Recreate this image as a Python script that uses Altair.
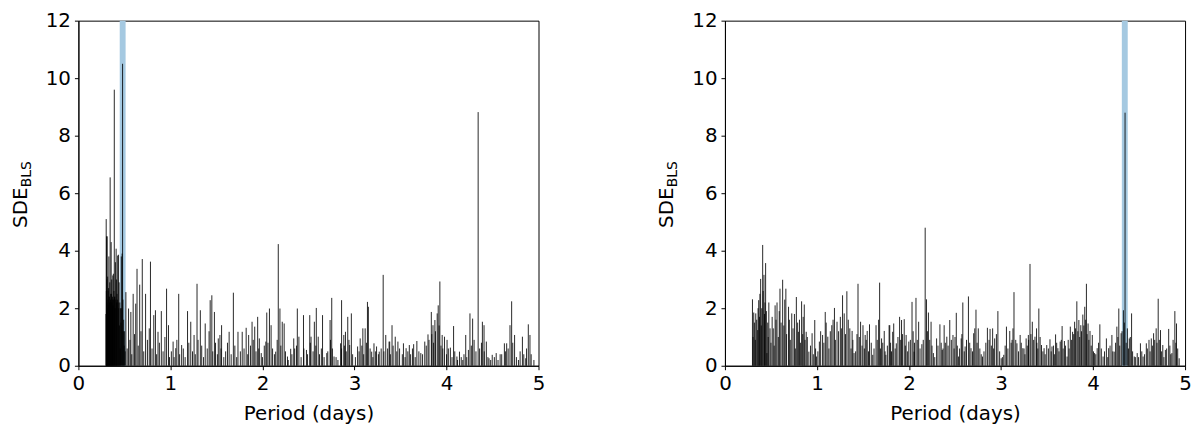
import altair as alt
import pandas as pd

# ---------------- data ----------------
left_period = [
    0.300, 0.302, 0.304, 0.306, 0.309, 0.311, 0.313, 0.316, 0.318, 0.321, 0.323, 0.326, 0.328, 0.331,
    0.333, 0.336, 0.338, 0.341, 0.345, 0.348, 0.351, 0.354, 0.356, 0.359, 0.362, 0.365, 0.368, 0.371,
    0.374, 0.377, 0.380, 0.383, 0.386, 0.390, 0.393, 0.396, 0.399, 0.402, 0.406, 0.410, 0.413, 0.416,
    0.420, 0.423, 0.427, 0.431, 0.435, 0.439, 0.442, 0.446, 0.450, 0.454, 0.458, 0.462, 0.466, 0.470,
    0.475, 0.480, 0.484, 0.488, 0.492, 0.497, 0.502, 0.508,
    0.516, 0.545, 0.570, 0.595, 0.623, 0.637, 0.666, 0.694, 0.730, 0.783, 0.819, 0.837, 0.865, 0.901,
    0.958, 0.979, 1.029, 1.058, 1.090, 1.122, 1.186, 1.221, 1.257, 1.289, 1.325, 1.378, 1.432, 1.450,
    1.478, 1.520, 1.538, 1.556, 1.638, 1.684, 1.734, 1.780, 1.823, 1.850,
    1.887, 1.916, 1.948, 1.966, 1.987, 2.037, 2.047, 2.076, 2.094, 2.144, 2.172, 2.190, 2.215, 2.236,
    2.272, 2.307, 2.340, 2.379, 2.396, 2.446, 2.478, 2.514, 2.528, 2.564, 2.585, 2.606, 2.653, 2.699,
    2.735, 2.753, 2.778, 2.849, 2.860, 2.884, 2.902, 2.927, 2.948, 2.966, 3.034, 3.062, 3.091, 3.116,
    3.141, 3.151, 3.187, 3.212, 3.240, 3.269, 3.312, 3.340, 3.376,
    3.383, 3.408, 3.443, 3.472, 3.532, 3.561, 3.596, 3.643, 3.678, 3.721, 3.764, 3.799, 3.835, 3.853,
    3.874, 3.899, 3.910, 3.928, 3.953, 3.978, 4.006, 4.042, 4.077, 4.113, 4.141, 4.177, 4.209, 4.238,
    4.255, 4.284, 4.344, 4.390, 4.408, 4.433, 4.462, 4.497, 4.540, 4.583, 4.629, 4.654, 4.690, 4.708,
    4.740, 4.782, 4.825, 4.861, 4.889, 4.907,
    0.530, 0.560, 0.580, 0.610, 0.650, 0.680, 0.710, 0.750, 0.770, 0.800, 0.850, 0.880, 0.920, 0.940,
    0.990, 1.010, 1.040, 1.070, 1.100, 1.140, 1.160, 1.200, 1.240, 1.270, 1.300, 1.340, 1.360, 1.400,
    1.420, 1.460, 1.490, 1.510, 1.550, 1.580, 1.600, 1.620, 1.660, 1.700, 1.720, 1.760, 1.800, 1.840,
    1.870, 1.900, 1.930, 1.960, 2.000, 2.020, 2.060, 2.110, 2.130, 2.160, 2.200, 2.250, 2.280, 2.320,
    2.350, 2.370, 2.420, 2.450, 2.490, 2.520, 2.550, 2.580, 2.620, 2.640, 2.670, 2.710, 2.740, 2.760,
    2.800, 2.820, 2.860, 2.890, 2.910, 2.940, 2.980, 3.010, 3.050, 3.080, 3.100, 3.130, 3.170, 3.200,
    3.230, 3.260, 3.290, 3.320, 3.360, 3.390, 3.420, 3.460, 3.490, 3.520, 3.550, 3.580, 3.610, 3.630,
    3.660, 3.700, 3.740, 3.780, 3.810, 3.840, 3.860, 3.880, 3.920, 3.940, 3.960, 4.000, 4.020, 4.060,
    4.090, 4.120, 4.160, 4.190, 4.220, 4.270, 4.300, 4.320, 4.360, 4.380, 4.410, 4.450, 4.480, 4.520,
    4.560, 4.600, 4.640, 4.670, 4.720, 4.760, 4.800, 4.840, 4.870, 4.920, 4.950,
]
left_sde = [
    1.8, 5.1, 2.6, 4.5, 3.0, 2.2, 4.5, 2.0, 3.1, 2.3, 2.6, 2.1, 2.7, 3.8,
    2.4, 2.4, 2.2, 2.9, 6.55, 2.3, 2.5, 2.2, 4.3, 2.5, 3.0, 2.2, 2.3, 2.4,
    3.14, 2.1, 3.2, 2.3, 2.6, 9.6, 2.4, 2.4, 2.0, 3.6, 2.3, 4.07, 3.0, 2.2,
    2.5, 2.3, 3.83, 2.2, 3.86, 2.0, 2.9, 1.4, 2.2, 0.6, 2.0, 1.5, 3.8, 2.0,
    3.9, 10.5, 2.3, 1.2, 1.6, 0.7, 1.2, 0.5,
    2.56, 1.99, 1.87, 2.5, 2.16, 3.37, 2.82, 3.71, 2.5, 3.62, 1.76, 1.93, 1.18, 1.9,
    2.68, 1.41, 0.84, 0.61, 2.5, 0.72, 1.9, 1.53, 1.07, 2.85, 1.93, 1.47, 2.28, 2.45,
    1.87, 0.95, 1.07, 1.41, 1.18, 2.54, 1.18, 1.18, 1.32, 1.07,
    1.53, 1.36, 1.7, 0.95, 0.44, 0.84, 1.85, 1.99, 1.41, 0.49, 4.23, 1.99, 1.53, 1.47,
    0.32, 0.59, 0.95, 1.99, 1.01, 1.76, 0.55, 1.76, 1.01, 1.53, 2.01, 1.01, 1.76, 0.44,
    1.59, 2.36, 0.32, 0.78, 2.28, 1.07, 1.18, 1.7, 0.72, 1.82, 0.67, 0.95, 1.3, 1.3,
    2.22, 2.05, 0.49, 0.78, 0.67, 0.49, 3.16, 1.07, 0.84,
    0.84, 1.41, 1.01, 0.84, 0.78, 0.61, 0.72, 0.75, 0.86, 0.44, 0.84, 1.09, 1.87, 1.41,
    1.59, 1.82, 2.1, 2.93, 1.07, 1.01, 0.9, 0.63, 1.38, 0.32, 0.49, 0.2, 1.07, 0.55,
    1.82, 1.64, 8.82, 1.53, 1.41, 0.84, 0.26, 0.38, 0.44, 0.4, 0.78, 0.78, 1.41, 2.24,
    1.07, 0.2, 1.01, 0.26, 1.44, 1.07,
    0.6, 0.9, 0.4, 1.1, 0.7, 1.2, 0.5, 0.9, 1.3, 0.6, 0.4, 0.8, 0.5, 1.0,
    0.3, 0.5, 0.3, 0.9, 0.4, 0.6, 0.3, 0.8, 0.5, 0.4, 0.9, 0.7, 0.3, 0.6,
    1.2, 0.5, 0.8, 0.4, 0.6, 0.3, 0.5, 0.8, 0.4, 0.7, 0.3, 0.5, 0.6, 0.4,
    0.7, 0.9, 0.5, 0.6, 0.3, 0.7, 0.8, 0.6, 0.4, 0.9, 0.7, 0.5, 0.2, 0.4,
    0.6, 0.7, 0.3, 0.6, 0.4, 0.8, 0.5, 0.7, 0.4, 0.6, 0.3, 0.5, 0.9, 0.6,
    0.3, 0.2, 0.6, 0.7, 0.5, 0.9, 0.4, 0.3, 0.5, 0.7, 0.4, 0.8, 0.6, 0.3,
    0.5, 0.4, 0.6, 0.5, 0.6, 0.4, 0.7, 0.5, 0.6, 0.4, 0.3, 0.5, 0.4, 0.6,
    0.3, 0.5, 0.4, 0.7, 0.9, 1.1, 0.8, 1.2, 1.4, 0.7, 0.6, 0.4, 0.6, 0.3,
    0.5, 0.2, 0.3, 0.4, 0.3, 0.7, 0.9, 0.5, 0.6, 0.8, 0.5, 0.3, 0.2, 0.3,
    0.2, 0.4, 0.5, 0.6, 0.8, 0.3, 0.5, 0.4, 0.6, 0.4, 0.2,
]

right_period = [
    0.299, 0.305, 0.313, 0.320, 0.330, 0.335, 0.345, 0.356, 0.360, 0.367, 0.375, 0.380, 0.388, 0.395,
    0.400, 0.410, 0.415, 0.424, 0.430, 0.435, 0.442, 0.450, 0.456, 0.465, 0.470, 0.477, 0.490, 0.500,
    0.513, 0.525, 0.535, 0.545, 0.555, 0.566, 0.580, 0.590, 0.598, 0.610, 0.627, 0.640, 0.650, 0.662,
    0.670, 0.691, 0.700, 0.710, 0.726, 0.740, 0.755, 0.765, 0.776, 0.790, 0.798, 0.810, 0.820, 0.833,
    0.845, 0.850, 0.862, 0.870, 0.883, 0.895, 0.912, 0.930, 0.947, 0.960, 0.976, 0.985, 0.994, 1.010,
    1.026, 1.040, 1.061, 1.075, 1.090, 1.100, 1.118, 1.130, 1.145, 1.161, 1.175, 1.190, 1.200, 1.218,
    1.235, 1.254, 1.265, 1.278, 1.296, 1.310, 1.325, 1.340, 1.357, 1.370, 1.382, 1.390, 1.403, 1.420,
    1.435, 1.446, 1.460, 1.474, 1.490, 1.500, 1.515, 1.524, 1.535, 1.546, 1.560, 1.571, 1.590, 1.606,
    1.620, 1.642, 1.655, 1.670, 1.681, 1.690, 1.702, 1.715, 1.731, 1.740, 1.749, 1.765, 1.784, 1.791,
    1.800, 1.810, 1.823, 1.834, 1.850, 1.862, 1.880, 1.898, 1.910, 1.919, 1.930, 1.948, 1.960, 1.969,
    1.985, 1.998, 2.015, 2.033, 2.045, 2.055, 2.060, 2.076, 2.090, 2.105, 2.120, 2.140, 2.155, 2.176,
    2.190, 2.200, 2.211, 2.225, 2.240, 2.250, 2.265, 2.280, 2.300, 2.315, 2.336, 2.350, 2.361, 2.370,
    2.382, 2.395, 2.411, 2.425, 2.443, 2.460, 2.478, 2.490, 2.500, 2.514, 2.525, 2.539, 2.550, 2.567,
    2.575, 2.585, 2.600, 2.610, 2.625, 2.646, 2.660, 2.674, 2.690, 2.703, 2.715, 2.728, 2.740, 2.753,
    2.770, 2.785, 2.799, 2.815, 2.835, 2.852, 2.870, 2.881, 2.895, 2.909, 2.920, 2.931, 2.950, 2.966,
    2.985, 3.002, 3.015, 3.030, 3.045, 3.059, 3.075, 3.095, 3.110, 3.120, 3.130, 3.141, 3.160, 3.173,
    3.190, 3.208, 3.220, 3.237, 3.250, 3.260, 3.273, 3.285, 3.297, 3.300, 3.315, 3.325, 3.340, 3.355,
    3.369, 3.386, 3.390, 3.400, 3.411, 3.425, 3.440, 3.455, 3.468, 3.480, 3.497, 3.515, 3.532, 3.545,
    3.554, 3.570, 3.580, 3.593, 3.605, 3.618, 3.630, 3.643, 3.655, 3.664, 3.675, 3.689, 3.700, 3.718,
    3.730, 3.740, 3.753, 3.765, 3.778, 3.790, 3.800, 3.810, 3.824, 3.835, 3.846, 3.855, 3.867, 3.875,
    3.889, 3.900, 3.910, 3.920, 3.928, 3.935, 3.946, 3.955, 3.967, 3.980, 3.992, 4.005, 4.017, 4.030,
    4.045, 4.060, 4.074, 4.090, 4.109, 4.125, 4.145, 4.160, 4.170, 4.185, 4.205, 4.215, 4.230, 4.245,
    4.259, 4.270, 4.280, 4.290, 4.305, 4.315, 4.330, 4.340, 4.348, 4.360, 4.373, 4.385, 4.394, 4.405,
    4.419, 4.430, 4.448, 4.460, 4.480, 4.495, 4.515, 4.530, 4.544, 4.560, 4.579, 4.590, 4.608, 4.620,
    4.633, 4.645, 4.658, 4.670, 4.686, 4.695, 4.708, 4.720, 4.733, 4.745, 4.758, 4.770, 4.786, 4.800,
    4.822, 4.835, 4.845, 4.857, 4.870, 4.889, 4.900, 4.907, 4.920, 4.936,
]
right_sde = [
    2.31, 1.0, 1.85, 1.5, 0.9, 1.82, 1.6, 1.24, 2.0, 2.28, 1.7, 2.5, 3.02, 1.4,
    2.0, 4.2, 2.6, 3.16, 1.8, 2.2, 3.57, 1.9, 0.44, 1.5, 1.0, 2.2, 1.3, 0.8,
    1.7, 1.3, 0.7, 2.1, 1.6, 2.2, 1.0, 1.9, 2.68, 1.5, 2.99, 1.4, 2.3, 2.68,
    1.1, 2.05, 1.6, 0.9, 1.82, 1.3, 1.8, 0.6, 2.39, 1.5, 1.18, 1.6, 0.8, 2.24,
    1.1, 1.7, 2.13, 0.9, 1.18, 1.0, 0.49, 0.7, 1.13, 0.4, 1.59, 0.6, 0.32, 0.5,
    0.84, 1.2, 1.07, 0.8, 1.87, 1.5, 1.01, 0.6, 1.2, 1.41, 1.6, 2.01, 0.9, 1.53,
    1.2, 1.7, 1.3, 2.45, 1.82, 1.1, 2.59, 1.6, 1.3, 0.6, 1.21, 0.9, 0.44, 0.5,
    1.1, 2.85, 1.0, 1.53, 0.7, 1.41, 0.6, 1.07, 0.9, 1.21, 0.5, 1.44, 0.8, 0.38,
    0.6, 1.41, 0.9, 1.6, 2.89, 0.6, 0.95, 0.8, 1.21, 0.5, 0.38, 0.7, 1.41, 1.41,
    0.8, 0.5, 1.18, 1.47, 0.6, 0.78, 1.0, 1.7, 0.9, 1.59, 1.1, 1.62, 0.7, 1.07,
    0.5, 0.84, 0.9, 2.22, 1.2, 0.49, 0.8, 2.36, 0.9, 1.53, 0.6, 0.75, 0.9, 4.8,
    2.31, 1.2, 1.85, 0.9, 1.53, 0.7, 0.44, 0.3, 0.95, 0.7, 1.44, 0.8, 0.55, 0.6,
    1.41, 0.8, 1.01, 0.7, 1.59, 0.9, 1.07, 0.6, 1.0, 1.84, 0.7, 0.32, 0.6, 0.95,
    1.1, 2.2, 0.5, 0.67, 0.9, 2.41, 0.8, 0.61, 0.5, 1.13, 1.3, 1.95, 0.8, 1.3,
    0.6, 0.4, 0.32, 0.5, 0.8, 1.32, 0.9, 1.28, 0.7, 1.3, 0.6, 0.95, 1.1, 1.9,
    0.5, 0.26, 0.3, 0.38, 0.7, 1.36, 0.6, 1.21, 0.8, 0.9, 1.3, 2.56, 0.9, 0.78,
    0.5, 1.07, 0.8, 0.61, 0.6, 0.4, 0.95, 0.7, 1.07, 0.9, 3.54, 1.1, 1.53, 0.9,
    1.01, 1.3, 0.8, 0.6, 1.99, 1.0, 0.72, 0.5, 0.61, 0.4, 0.72, 0.6, 0.92, 0.5,
    0.67, 0.7, 0.4, 1.09, 0.8, 0.61, 0.5, 0.84, 0.9, 1.38, 0.6, 0.86, 0.7, 0.32,
    0.9, 0.6, 1.36, 0.9, 1.18, 1.1, 1.53, 1.3, 2.24, 1.2, 1.59, 1.0, 1.41, 1.2,
    1.78, 1.4, 2.05, 1.6, 2.85, 1.1, 1.47, 0.9, 1.21, 0.7, 1.07, 0.5, 0.44, 0.4,
    0.61, 0.8, 1.44, 0.6, 0.32, 0.5, 0.95, 0.3, 0.61, 0.7, 1.07, 0.5, 0.49, 0.8,
    1.36, 1.0, 1.99, 0.7, 1.13, 1.2, 1.93, 1.5, 8.8, 0.8, 1.3, 0.6, 0.95, 1.0,
    1.82, 0.5, 0.32, 0.3, 0.44, 0.3, 0.78, 0.5, 0.32, 0.4, 0.78, 0.6, 0.9, 0.5,
    0.95, 0.7, 1.13, 0.9, 1.3, 0.8, 2.33, 0.9, 1.24, 0.5, 0.72, 0.3, 0.55, 0.6,
    1.28, 0.7, 0.4, 0.44, 0.9, 1.9, 0.8, 1.47, 0.6, 0.26,
]

band_lo = [0.449, 4.313]
band_hi = [0.513, 4.377]

x_ticks = [0, 1, 2, 3, 4, 5]
y_ticks = [0, 2, 4, 6, 8, 10, 12]

W, H = 464, 348
FONT = "DejaVu Sans"


def x_enc(field):
    return alt.X(
        field,
        scale=alt.Scale(domain=[0, 5], nice=False, zero=False),
        axis=alt.Axis(values=x_ticks, title="Period (days)", format="d", labelFlush=False),
    )


def panel(periods, sdes, lo, hi):
    df = pd.DataFrame({"period": periods, "sde": sdes})
    band_df = pd.DataFrame({"lo": [lo], "hi": [hi]})
    band = (
        alt.Chart(band_df)
        .mark_rect(color="#a5c9e1")
        .encode(x=x_enc("lo:Q"), x2="hi:Q", y=alt.value(0), y2=alt.value(H))
    )
    spikes = (
        alt.Chart(df)
        .mark_rule(color="black", strokeWidth=1, opacity=0.85)
        .encode(
            x=x_enc("period:Q"),
            y=alt.Y(
                "sde:Q",
                scale=alt.Scale(domain=[0, 12], nice=False),
                axis=alt.Axis(values=y_ticks, title=None, format="d", labelFlush=False),
            ),
            y2=alt.datum(0),
        )
    )
    lab1 = (
        alt.Chart(pd.DataFrame({"t": ["SDE"]}))
        .mark_text(angle=270, align="left", baseline="alphabetic", fontSize=20,
                   font=FONT, color="black")
        .encode(x=alt.value(-52), y=alt.value(209), text="t:N")
    )
    lab2 = (
        alt.Chart(pd.DataFrame({"t": ["BLS"]}))
        .mark_text(angle=270, align="left", baseline="alphabetic", fontSize=14,
                   font=FONT, color="black")
        .encode(x=alt.value(-48), y=alt.value(168), text="t:N")
    )
    return alt.layer(band, spikes, lab1, lab2).properties(width=W, height=H)


left = panel(left_period, left_sde, band_lo[0], band_hi[0])
right = panel(right_period, right_sde, band_lo[1], band_hi[1])

chart = (
    alt.hconcat(left, right, spacing=112)
    .properties(padding={"left": 2, "top": 0, "right": 0, "bottom": 0})
    .configure_view(stroke="black", strokeWidth=1)
    .configure_axis(
        labelFont=FONT,
        titleFont=FONT,
        labelFontSize=20,
        titleFontSize=20,
        titleFontWeight="normal",
        labelColor="black",
        titleColor="black",
        domainColor="black",
        tickColor="black",
        domainWidth=1,
        tickWidth=1,
        tickSize=4,
        labelPadding=4,
        titlePadding=10,
        grid=False,
    )
)

chart.save("out.html", embed_options={"renderer": "svg", "actions": False})
